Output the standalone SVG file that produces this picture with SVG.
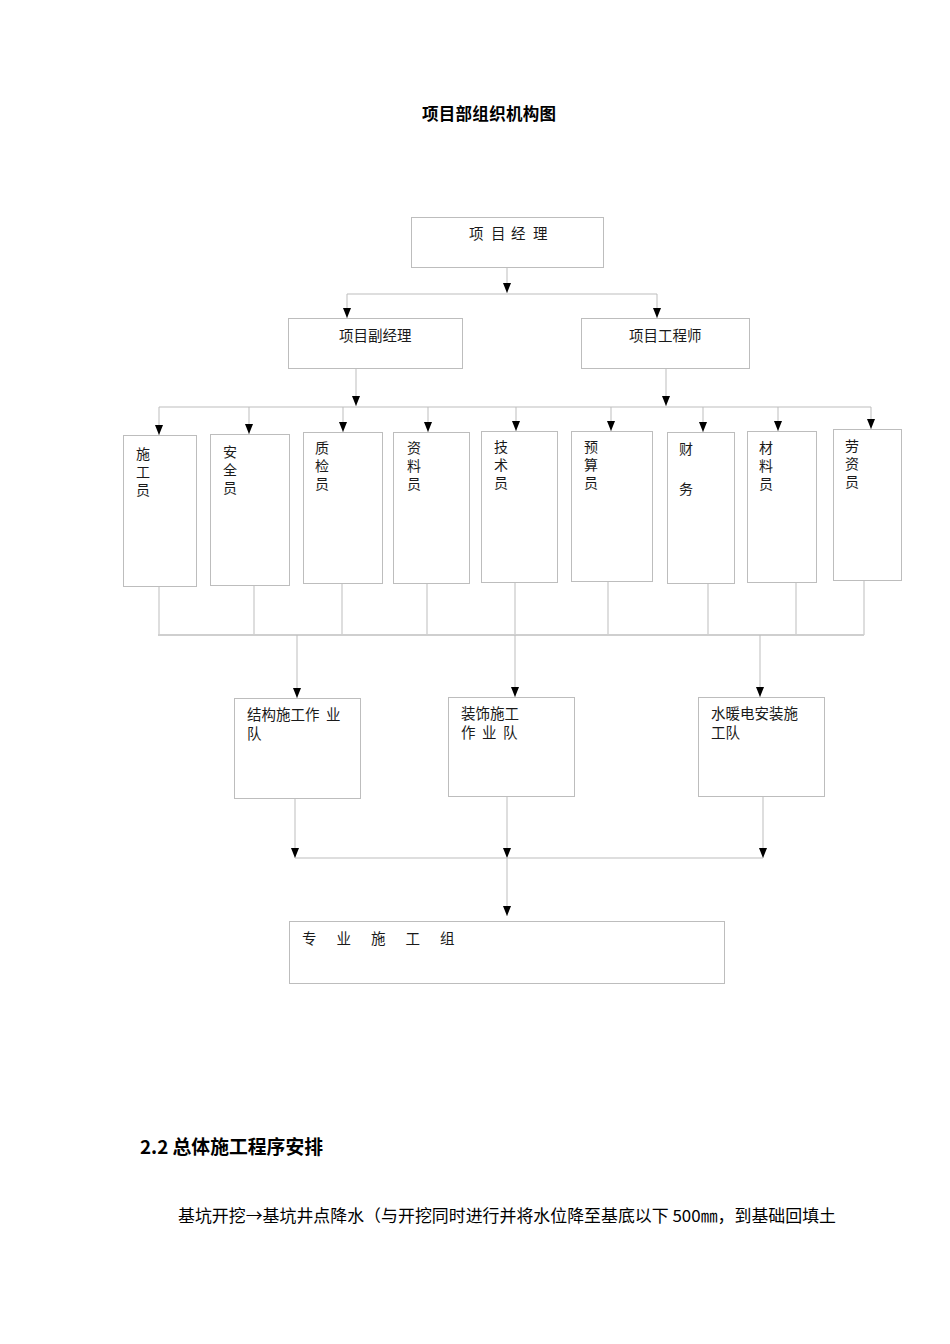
<svg xmlns="http://www.w3.org/2000/svg" width="950" height="1344" viewBox="0 0 950 1344">
<style>
.bx{fill:#fff;stroke:#bdbdbd;stroke-width:1}
.ln{stroke:#bdbdbd;stroke-width:1;fill:none}
.bus{stroke:#cfcfcf;stroke-width:2;fill:none}
.t{font-family:"Noto Sans CJK SC","Noto Sans",sans-serif;font-size:14.5px;fill:#1a1a1a}
.v{font-family:"Noto Sans CJK SC","Noto Sans",sans-serif;font-size:14px;fill:#1a1a1a}
.h{font-family:"Noto Sans CJK SC","Noto Sans",sans-serif;font-weight:bold;fill:#000}
.b{font-family:"Noto Sans CJK SC","Noto Sans",sans-serif;font-size:16.5px;fill:#000}
</style>
<defs>
<marker id="arr" viewBox="0 0 10 8" refX="10" refY="4" markerWidth="10" markerHeight="8" markerUnits="userSpaceOnUse" orient="auto">
<path d="M0,0 L10,4 L0,8 z" fill="#000"/>
</marker>
</defs>
<rect width="950" height="1344" fill="#fff"/>
<text class="h" x="422" y="120" font-size="16.5" textLength="134">项目部组织机构图</text>

<g id="connectors">
<line class="ln" x1="507" y1="267" x2="507" y2="293" marker-end="url(#arr)"/>
<line class="ln" x1="347" y1="294" x2="657" y2="294"/>
<line class="ln" x1="347" y1="294" x2="347" y2="318" marker-end="url(#arr)"/>
<line class="ln" x1="657" y1="294" x2="657" y2="318" marker-end="url(#arr)"/>
<line class="ln" x1="356" y1="368" x2="356" y2="406" marker-end="url(#arr)"/>
<line class="ln" x1="666" y1="368" x2="666" y2="406" marker-end="url(#arr)"/>
<line class="ln" x1="159" y1="407" x2="871" y2="407"/>
<line class="ln" x1="159" y1="407" x2="159" y2="435" marker-end="url(#arr)"/>
<line class="ln" x1="249" y1="407" x2="249" y2="434" marker-end="url(#arr)"/>
<line class="ln" x1="343" y1="407" x2="343" y2="432" marker-end="url(#arr)"/>
<line class="ln" x1="428" y1="407" x2="428" y2="432" marker-end="url(#arr)"/>
<line class="ln" x1="516" y1="407" x2="516" y2="431" marker-end="url(#arr)"/>
<line class="ln" x1="611" y1="407" x2="611" y2="431" marker-end="url(#arr)"/>
<line class="ln" x1="703" y1="407" x2="703" y2="432" marker-end="url(#arr)"/>
<line class="ln" x1="778" y1="407" x2="778" y2="431" marker-end="url(#arr)"/>
<line class="ln" x1="871" y1="407" x2="871" y2="429" marker-end="url(#arr)"/>
<line class="ln" x1="159" y1="586" x2="159" y2="635"/>
<line class="ln" x1="254" y1="585" x2="254" y2="635"/>
<line class="ln" x1="342" y1="583" x2="342" y2="635"/>
<line class="ln" x1="427" y1="583" x2="427" y2="635"/>
<line class="ln" x1="515" y1="582" x2="515" y2="635"/>
<line class="ln" x1="608" y1="582" x2="608" y2="635"/>
<line class="ln" x1="708" y1="583" x2="708" y2="635"/>
<line class="ln" x1="796" y1="582" x2="796" y2="635"/>
<line class="ln" x1="864" y1="581" x2="864" y2="635"/>
<line class="bus" x1="158" y1="635" x2="864" y2="635"/>
<line class="ln" x1="297" y1="635" x2="297" y2="698" marker-end="url(#arr)"/>
<line class="ln" x1="515" y1="635" x2="515" y2="697" marker-end="url(#arr)"/>
<line class="ln" x1="760" y1="635" x2="760" y2="697" marker-end="url(#arr)"/>
<line class="ln" x1="295" y1="798" x2="295" y2="858" marker-end="url(#arr)"/>
<line class="ln" x1="507" y1="796" x2="507" y2="858" marker-end="url(#arr)"/>
<line class="ln" x1="763" y1="796" x2="763" y2="858" marker-end="url(#arr)"/>
<line class="ln" x1="295" y1="858" x2="763" y2="858"/>
<line class="ln" x1="507" y1="858" x2="507" y2="916" marker-end="url(#arr)"/>
</g>

<g id="pm"><rect class="bx" x="411.5" y="217.5" width="192" height="50"/>
<text class="t" font-size="14" x="469 491 511 533" y="239">项目经理</text></g>
<g id="deputy"><rect class="bx" x="288.5" y="318.5" width="174" height="50"/>
<text class="t" x="339" y="341">项目副经理</text></g>
<g id="engineer"><rect class="bx" x="581.5" y="318.5" width="168" height="50"/>
<text class="t" x="629" y="341">项目工程师</text></g>

<g id="s1"><rect class="bx" x="123.5" y="435.5" width="73" height="151"/>
<text class="v" x="136" y="459">施<tspan x="136" dy="18">工</tspan><tspan x="136" dy="18">员</tspan></text></g>
<g id="s2"><rect class="bx" x="210.5" y="434.5" width="79" height="151"/>
<text class="v" x="223" y="457">安<tspan x="223" dy="18">全</tspan><tspan x="223" dy="18">员</tspan></text></g>
<g id="s3"><rect class="bx" x="303.5" y="432.5" width="79" height="151"/>
<text class="v" x="315" y="453">质<tspan x="315" dy="18">检</tspan><tspan x="315" dy="18">员</tspan></text></g>
<g id="s4"><rect class="bx" x="393.5" y="432.5" width="76" height="151"/>
<text class="v" x="407" y="453">资<tspan x="407" dy="18">料</tspan><tspan x="407" dy="18">员</tspan></text></g>
<g id="s5"><rect class="bx" x="481.5" y="431.5" width="76" height="151"/>
<text class="v" x="494" y="452">技<tspan x="494" dy="18">术</tspan><tspan x="494" dy="18">员</tspan></text></g>
<g id="s6"><rect class="bx" x="571.5" y="431.5" width="81" height="150"/>
<text class="v" x="584" y="452">预<tspan x="584" dy="18">算</tspan><tspan x="584" dy="18">员</tspan></text></g>
<g id="s7"><rect class="bx" x="667.5" y="432.5" width="67" height="151"/>
<text class="v" x="679" y="454">财<tspan x="679" dy="40">务</tspan></text></g>
<g id="s8"><rect class="bx" x="747.5" y="431.5" width="69" height="151"/>
<text class="v" x="759" y="453">材<tspan x="759" dy="18">料</tspan><tspan x="759" dy="18">员</tspan></text></g>
<g id="s9"><rect class="bx" x="833.5" y="429.5" width="68" height="151"/>
<text class="v" x="845" y="451">劳<tspan x="845" dy="18">资</tspan><tspan x="845" dy="18">员</tspan></text></g>

<g id="team1"><rect class="bx" x="234.5" y="698.5" width="126" height="100"/>
<text class="t" x="247 261.5 276 290.5 305 326" y="720">结构施工作业</text><text class="t" x="247" y="739">队</text></g>
<g id="team2"><rect class="bx" x="448.5" y="697.5" width="126" height="99"/>
<text class="t" x="461" y="719">装饰施工</text><text class="t" x="461 482 503" y="738">作业队</text></g>
<g id="team3"><rect class="bx" x="698.5" y="697.5" width="126" height="99"/>
<text class="t" x="711" y="719">水暖电安装施</text><text class="t" x="711" y="738">工队</text></g>

<g id="group"><rect class="bx" x="289.5" y="921.5" width="435" height="62"/>
<text class="t" font-size="14" x="302 336.5 371 405.5 440" y="944">专业施工组</text></g>

<text class="h" x="140" y="1154" font-size="19" textLength="183" lengthAdjust="spacingAndGlyphs">2.2 总体施工程序安排</text>
<text class="b" x="178" y="1222" textLength="658" lengthAdjust="spacingAndGlyphs">基坑开挖→基坑井点降水（与开挖同时进行并将水位降至基底以下 500㎜，到基础回填土</text>
</svg>
